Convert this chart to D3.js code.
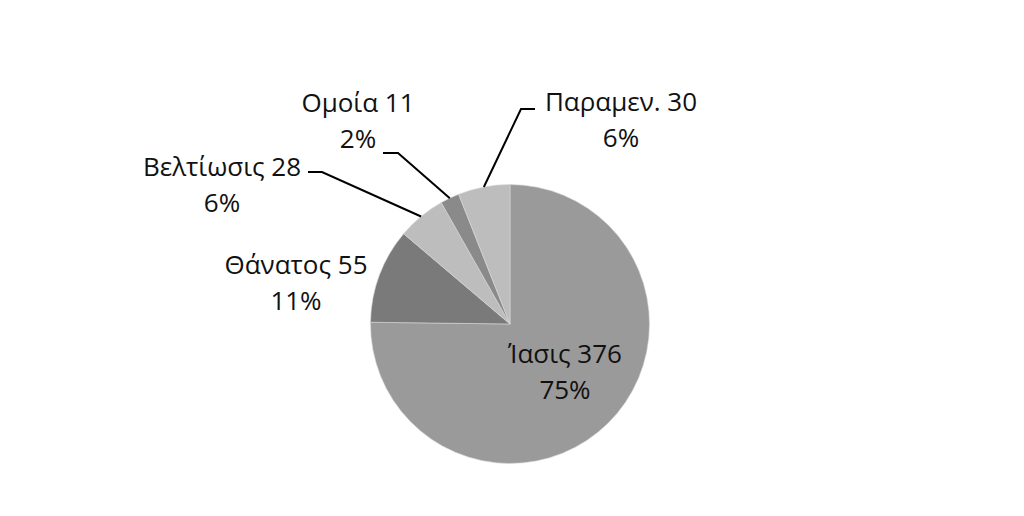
<!DOCTYPE html>
<html>
<head>
<meta charset="utf-8">
<script src="https://cdn.jsdelivr.net/npm/d3@7"></script>
<style>
  body { margin: 0; background: #fff; }
  text { font-family: "Open Sans", Lato, sans-serif; font-size: 26px; fill: #111; }
</style>
</head>
<body>
<div id="chart"></div>
<script>
// Data
const categories = ['Ίασις', 'Θάνατος', 'Βελτίωσις', 'Ομοία', 'Παραμεν.'];
const counts = [376, 55, 28, 11, 30];
const percents = ['75%', '11%', '6%', '2%', '6%'];
const fills = ['#9a9a9a', '#7a7a7a', '#bdbdbd', '#8a8a8a', '#bdbdbd'];

// Label placement (text centre, first baseline) and leader elbows
const labelAt = [[565, 363], [296, 274], [222, 176], [358, 112], [621, 111]];
const elbows = [null, null, [[322, 172], [308, 172]], [[398, 153], [383, 153]], [[521, 109], [535, 109]]];

const width = 1024, height = 516;
const cx = 510, cy = 324, radius = 139.5;

const svg = d3.select('#chart').append('svg')
  .attr('width', width)
  .attr('height', height);

const pie = d3.pie().sort(null).value(d => d)(counts);
const arc = d3.arc().innerRadius(0).outerRadius(radius);

const g = svg.append('g').attr('transform', `translate(${cx},${cy})`);

g.selectAll('path')
  .data(pie)
  .enter().append('path')
  .attr('d', arc)
  .attr('fill', (d, i) => fills[i])
  .attr('stroke', '#d8d8d8')
  .attr('stroke-width', 0.6);

// Leader lines from the slice edge to the label
pie.forEach((d, i) => {
  if (!elbows[i]) return;
  const a = (d.startAngle + d.endAngle) / 2;
  const p0 = [cx + radius * Math.sin(a), cy - radius * Math.cos(a)];
  svg.append('polyline')
    .attr('points', [p0, ...elbows[i]].map(p => p.join(',')).join(' '))
    .attr('fill', 'none')
    .attr('stroke', '#000')
    .attr('stroke-width', 2);
});

// Labels
categories.forEach((c, i) => {
  const t = svg.append('text')
    .attr('text-anchor', 'middle')
    .attr('x', labelAt[i][0])
    .attr('y', labelAt[i][1]);
  t.append('tspan').attr('x', labelAt[i][0]).text(`${c} ${counts[i]}`);
  t.append('tspan').attr('x', labelAt[i][0]).attr('dy', 36).text(percents[i]);
});
</script>
</body>
</html>
